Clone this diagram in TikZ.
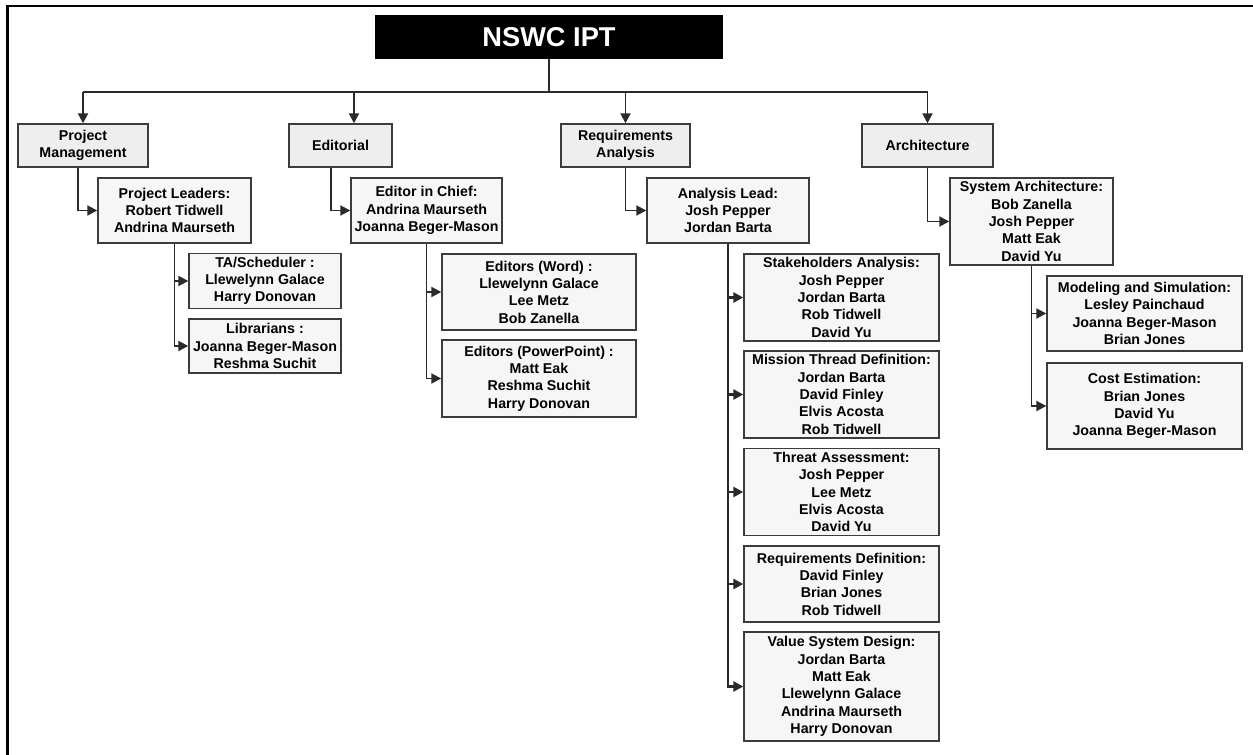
\documentclass[tikz,border=0pt]{standalone}
\usepackage{fontspec}
\setmainfont{Liberation Sans}
\usetikzlibrary{arrows.meta}
\definecolor{boxline}{HTML}{3C3C3C}
\definecolor{linkline}{HTML}{2A2A2A}
\definecolor{unitfill}{HTML}{EEEEEE}
\definecolor{teamfill}{HTML}{F6F6F6}

\begin{document}
\begin{tikzpicture}[font=\bfseries\fontsize{8.1}{9.85}\selectfont,head/.style={fill=black,text=white,font=\bfseries\fontsize{15.5}{18}\selectfont,minimum width=6.96cm,minimum height=0.88cm,inner sep=0pt},unit/.style={draw=boxline,fill=unitfill,line width=0.8pt,align=center,minimum height=0.86cm,inner sep=2pt},team/.style={draw=boxline,fill=teamfill,line width=0.8pt,align=center,inner sep=2pt},link/.style={draw=linkline,line width=1.1pt,-{Triangle[length=0.2cm,width=0.2cm]}},bus/.style={draw=linkline,line width=1.1pt}]
\useasboundingbox (0,0) rectangle (25.06,-15.1);
\draw[line width=1.4pt] (0.15,-15.1) -- (0.15,-0.12) -- (25.06,-0.12);
\node[head] (title) at (10.98,-0.74) {NSWC IPT};
% first row of units
\node[unit,minimum width=2.6cm] (pm) at (1.66,-2.91) {Project\\Management};
\node[unit,minimum width=2.06cm] (ed) at (6.81,-2.91) {Editorial};
\node[unit,minimum width=2.58cm] (ra) at (12.51,-2.91) {Requirements\\Analysis};
\node[unit,minimum width=2.62cm] (arch) at (18.55,-2.91) {Architecture};
% leads
\node[team,minimum width=3.06cm,minimum height=1.3cm] (leaders) at (3.49,-4.21) {Project Leaders:\\Robert Tidwell\\Andrina Maurseth};
\node[team,minimum width=3.02cm,minimum height=1.3cm] (chief) at (8.53,-4.21) {Editor in Chief:\\Andrina Maurseth\\Joanna Beger-Mason};
\node[team,minimum width=3.24cm,minimum height=1.3cm] (lead) at (14.56,-4.21) {Analysis Lead:\\Josh Pepper\\Jordan Barta};
\node[team,minimum width=3.26cm,minimum height=1.74cm] (sysarch) at (20.63,-4.43) {System Architecture:\\Bob Zanella\\Josh Pepper\\Matt Eak\\David Yu};
% teams
\node[team,minimum width=3.04cm,minimum height=1.08cm] (sched) at (5.3,-5.62) {TA/Scheduler :\\Llewelynn Galace\\Harry Donovan};
\node[team,minimum width=3.04cm,minimum height=1.08cm] (libr) at (5.3,-6.92) {Librarians :\\Joanna Beger-Mason\\Reshma Suchit};
\node[team,minimum width=3.88cm,minimum height=1.52cm] (word) at (10.78,-5.84) {Editors (Word) :\\Llewelynn Galace\\Lee Metz\\Bob Zanella};
\node[team,minimum width=3.88cm,minimum height=1.54cm] (ppt) at (10.78,-7.57) {Editors (PowerPoint) :\\Matt Eak\\Reshma Suchit\\Harry Donovan};
\node[team,minimum width=3.9cm,minimum height=1.74cm] (stake) at (16.83,-5.95) {Stakeholders Analysis:\\Josh Pepper\\Jordan Barta\\Rob Tidwell\\David Yu};
\node[team,minimum width=3.9cm,minimum height=1.74cm] (mission) at (16.83,-7.89) {Mission Thread Definition:\\Jordan Barta\\David Finley\\Elvis Acosta\\Rob Tidwell};
\node[team,minimum width=3.9cm,minimum height=1.72cm] (threat) at (16.83,-9.84) {Threat Assessment:\\Josh Pepper\\Lee Metz\\Elvis Acosta\\David Yu};
\node[team,minimum width=3.9cm,minimum height=1.52cm] (reqdef) at (16.83,-11.68) {Requirements Definition:\\David Finley\\Brian Jones\\Rob Tidwell};
\node[team,minimum width=3.9cm,minimum height=2.18cm] (value) at (16.83,-13.73) {Value System Design:\\Jordan Barta\\Matt Eak\\Llewelynn Galace\\Andrina Maurseth\\Harry Donovan};
\node[team,minimum width=3.9cm,minimum height=1.5cm] (model) at (22.89,-6.27) {Modeling and Simulation:\\Lesley Painchaud\\Joanna Beger-Mason\\Brian Jones};
\node[team,minimum width=3.9cm,minimum height=1.72cm] (cost) at (22.89,-8.12) {Cost Estimation:\\Brian Jones\\David Yu\\Joanna Beger-Mason};
% connectors
\coordinate (bar) at (0,-1.84);
\coordinate (edtop) at ([xshift=0.27cm]ed.north);
\coordinate (pmfoot) at ([xshift=-0.1cm]pm.south);
\coordinate (edfoot) at ([xshift=-0.19cm]ed.south);
\draw[bus] (title.south) -- (title.south |- bar);
\draw[bus] (pm.north |- bar) -- (arch.north |- bar);
\foreach \n in {pm,ra,arch} {\draw[link] (\n.north |- bar) -- (\n.north);}
\draw[link] (edtop |- bar) -- (edtop);
\draw[link] (pmfoot) |- (leaders.west); \draw[link] (edfoot) |- (chief.west);
\draw[link] (ra.south) |- (lead.west); \draw[link] (arch.south) |- (sysarch.west);
\foreach \c in {sched,libr} {\draw[link] (leaders.south) |- (\c.west);}
\foreach \c in {word,ppt} {\draw[link] (chief.south) |- (\c.west);}
\foreach \c in {stake,mission,threat,reqdef,value} {\draw[link,line width=1.5pt] (lead.south) |- (\c.west);}
\foreach \c in {model,cost} {\draw[link] (sysarch.south) |- (\c.west);}
\end{tikzpicture}
\end{document}
